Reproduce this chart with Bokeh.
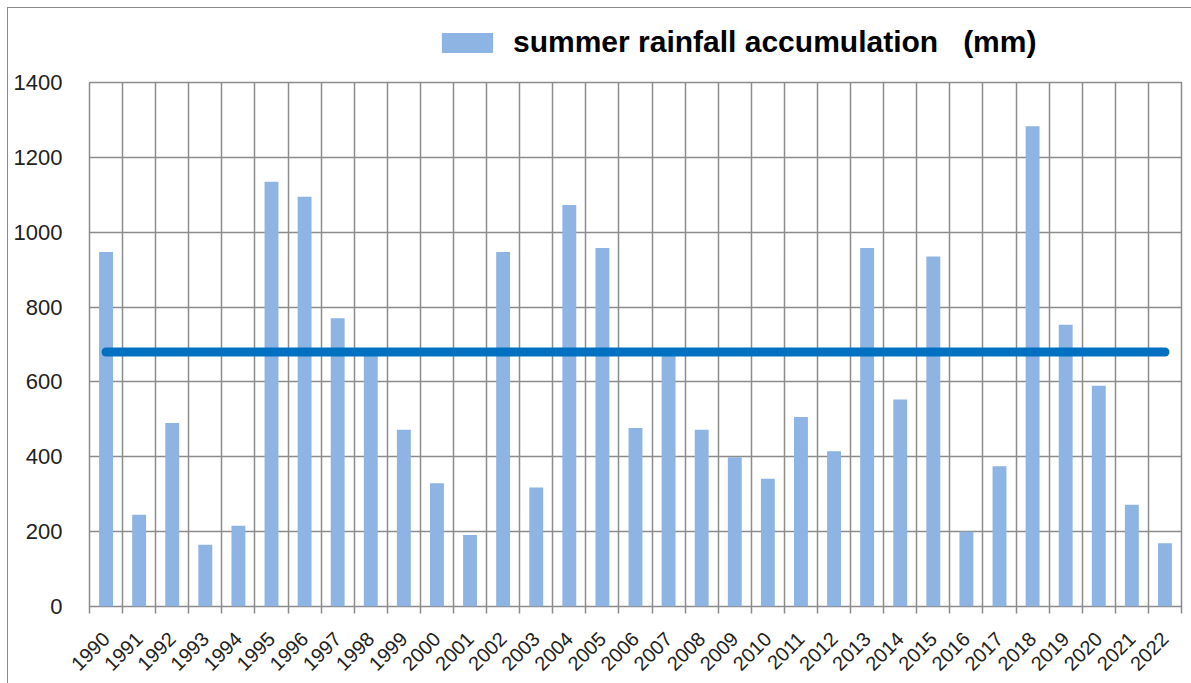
from math import pi
from bokeh.plotting import figure
from bokeh.layouts import column
from bokeh.models import Range1d, FixedTicker, Legend, LegendItem
from bokeh.embed import file_html
from bokeh.resources import INLINE

# ---- data ----
years = list(range(1990, 2023))
rainfall = [947, 245, 490, 165, 216, 1135, 1095, 770, 680, 472,
            329, 191, 947, 318, 1073, 958, 477, 675, 472, 399,
            341, 506, 415, 958, 553, 935, 200, 375, 1283, 753,
            590, 272, 169]
mean_rainfall = 680
y_ticks = [0, 200, 400, 600, 800, 1000, 1200, 1400]
legend_text = "summer rainfall accumulation   (mm)"

boundaries = [y - 0.5 for y in years] + [years[-1] + 0.5]

GRID = "#8c8c8c"
BAR = "#8DB4E2"

# ---- legend strip (own small figure so nothing is clipped) ----
lg = figure(width=1183, height=60, output_backend="svg", toolbar_location=None,
            x_range=Range1d(0, 1), y_range=Range1d(0, 1),
            min_border=0, min_border_left=0, min_border_right=0,
            min_border_top=0, min_border_bottom=0)
lg.axis.visible = False
lg.grid.visible = False
lg.outline_line_color = None
lg.background_fill_color = "white"
lg.border_fill_color = "white"
# zero-height key bar: only its legend swatch is seen
swatch = lg.vbar(x=[0.5], top=[0], bottom=[0], width=0.5, fill_color=BAR, line_color=None)
legend = Legend(items=[LegendItem(label=legend_text, renderers=[swatch])],
                location=(346, 9), orientation="horizontal")
legend.label_text_font = "Liberation Sans"
legend.label_text_font_style = "bold"
legend.label_text_font_size = "30px"
legend.label_text_color = "black"
legend.glyph_width = 64
legend.glyph_height = 25
legend.label_standoff = 14
legend.padding = 0
legend.margin = 0
legend.spacing = 0
legend.border_line_alpha = 0
legend.background_fill_alpha = 0
lg.add_layout(legend)

# ---- main chart ----
p = figure(width=1183, height=615, output_backend="svg", toolbar_location=None,
           x_range=Range1d(years[0] - 0.5, years[-1] + 0.5),
           y_range=Range1d(y_ticks[0], y_ticks[-1]),
           min_border_left=81, min_border_right=10, min_border_top=14, min_border_bottom=77)
p.background_fill_color = "white"
p.border_fill_color = "white"
p.outline_line_color = GRID
p.outline_line_width = 1.5

bars = p.vbar(x=years, top=rainfall, width=0.42, bottom=0,
              fill_color=BAR, line_color=None)
p.line(x=[years[0], years[-1]], y=[mean_rainfall, mean_rainfall],
       line_width=9, line_color="#0070C0", line_cap="round")

p.xgrid.ticker = FixedTicker(ticks=boundaries)
p.ygrid.ticker = FixedTicker(ticks=y_ticks)
for g in (p.xgrid, p.ygrid):
    g.grid_line_color = GRID
    g.grid_line_width = 1.5

xa = p.xaxis[0]
xa.ticker = FixedTicker(ticks=years, minor_ticks=boundaries)
xa.major_label_orientation = pi / 4
xa.major_tick_in = 0
xa.major_tick_out = 0
xa.minor_tick_in = 0
xa.minor_tick_out = 7
xa.minor_tick_line_color = GRID
xa.minor_tick_line_width = 1.5
xa.axis_line_color = None
xa.major_label_standoff = 22
xa.major_label_text_font = "Liberation Sans"
xa.major_label_text_font_size = "20px"
xa.major_label_text_color = "#222222"

ya = p.yaxis[0]
ya.ticker = FixedTicker(ticks=y_ticks)
ya.major_tick_in = 0
ya.major_tick_out = 0
ya.minor_tick_line_color = None
ya.axis_line_color = None
ya.major_label_standoff = 27
ya.major_label_text_font = "Liberation Sans"
ya.major_label_text_font_size = "22px"
ya.major_label_text_color = "#222222"

layout = column(lg, p, spacing=0)
layout.margin = (8, 0, 0, 8)
layout.styles = {"outline": "1px solid #8a8a8a"}

open("out.html", "w").write(file_html(layout, INLINE))
